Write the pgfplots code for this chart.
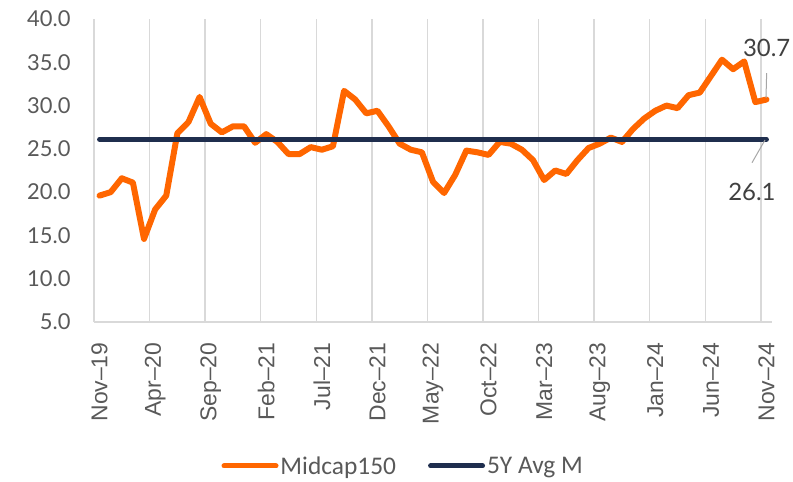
\documentclass[border=0pt]{standalone}
\usepackage{fontspec}
\setmainfont{Lato}
\newfontfamily\lab{Liberation Sans}
\newfontfamily\leg{Carlito}
\usepackage{pgfplots}
\pgfplotsset{compat=1.18}
\definecolor{orangeM}{HTML}{FF6600}
\definecolor{navyA}{HTML}{1F2E4E}
\definecolor{gridG}{HTML}{D9D9D9}
\definecolor{txtG}{HTML}{595959}
\definecolor{lblG}{HTML}{404040}
\pgfplotstableread{
x y
0.5 19.6
1.5 20.0
2.5 21.6
3.5 21.1
4.5 14.6
5.5 18.0
6.5 19.6
7.5 26.8
8.5 28.1
9.5 31.0
10.5 27.9
11.5 26.9
12.5 27.6
13.5 27.6
14.5 25.7
15.5 26.7
16.5 25.8
17.5 24.4
18.5 24.4
19.5 25.2
20.5 24.9
21.5 25.3
22.5 31.7
23.5 30.7
24.5 29.1
25.5 29.4
26.5 27.6
27.5 25.6
28.5 24.9
29.5 24.6
30.5 21.2
31.5 19.9
32.5 22.0
33.5 24.8
34.5 24.6
35.5 24.3
36.5 25.8
37.5 25.6
38.5 24.9
39.5 23.7
40.5 21.4
41.5 22.5
42.5 22.1
43.5 23.7
44.5 25.1
45.5 25.6
46.5 26.3
47.5 25.8
48.5 27.3
49.5 28.5
50.5 29.4
51.5 30.0
52.5 29.7
53.5 31.2
54.5 31.5
55.5 33.4
56.5 35.3
57.5 34.2
58.5 35.1
59.5 30.4
60.5 30.7
}\midcap
\begin{document}
\begin{tikzpicture}
\useasboundingbox (0,0) rectangle (793bp,482bp);
\begin{axis}[
  at={(94bp,160bp)}, anchor=south west,
  scale only axis, width=678bp, height=303bp,
  xmin=0, xmax=61, ymin=5, ymax=40,
  clip=false,
  axis x line*=bottom, axis y line*=left,
  y axis line style={draw=none},
  x axis line style={gridG, line width=1.5bp, -},
  xtick={0.5,5.5,10.5,15.5,20.5,25.5,30.5,35.5,40.5,45.5,50.5,55.5,60.5},
  xticklabels={Nov–19,Apr–20,Sep–20,Feb–21,Jul–21,Dec–21,May–22,Oct–22,Mar–23,Aug–23,Jan–24,Jun–24,Nov–24},
  xtick style={draw=none},
  xticklabel style={rotate=90, anchor=east, font=\lab\fontsize{23}{27}\selectfont, text=txtG},
  xticklabel shift=17bp,
  extra x ticks={0,5,10,15,20,25,30,35,40,45,50,55,60},
  extra x tick labels={},
  extra x tick style={xmajorgrids=true, tick style={draw=gridG, line width=1.5bp}, major tick length=10bp, tick align=outside},
  major grid style={gridG, line width=1.5bp},
  ytick={5,10,...,40}, ytick style={draw=none},
  yticklabel style={font=\fontsize{22}{26}\selectfont, text=txtG, anchor=east},
  yticklabel shift=20bp,
  /pgf/number format/.cd, fixed, fixed zerofill, precision=1, assume math mode=true,
  /pgfplots/.cd,
  legend style={at={(0.456,-0.475)}, anchor=center, draw=none, fill=none, legend columns=2,
    font=\leg\fontsize{25.5}{30}\selectfont, text=txtG,
    /tikz/every even column/.append style={column sep=30bp}},
  legend image code/.code={\draw[#1, line width=5bp, line cap=round] (0bp,0bp) -- (52bp,0bp);},
]
\addplot[orangeM, line width=6bp, line join=round, line cap=round] table[x=x,y=y] {\midcap};
\addlegendentry{Midcap150}
\addplot[navyA, line width=5bp, line cap=round] coordinates {(0.5,26.1) (60.5,26.1)};
\addlegendentry{5Y Avg M}
\node[font=\fontsize{24}{28}\selectfont, text=lblG] at (axis cs:60.52,36.65) {30.7};
\node[font=\fontsize{24}{28}\selectfont, text=lblG] at (axis cs:59.2,20.05) {26.1};
\draw[gray!70, line width=1bp] (axis cs:60.52,33.76) -- (axis cs:60.46,30.88);
\draw[gray!70, line width=1bp] (axis cs:60.37,26.02) -- (axis cs:59.2,23.4);
\end{axis}
\end{tikzpicture}
\end{document}
